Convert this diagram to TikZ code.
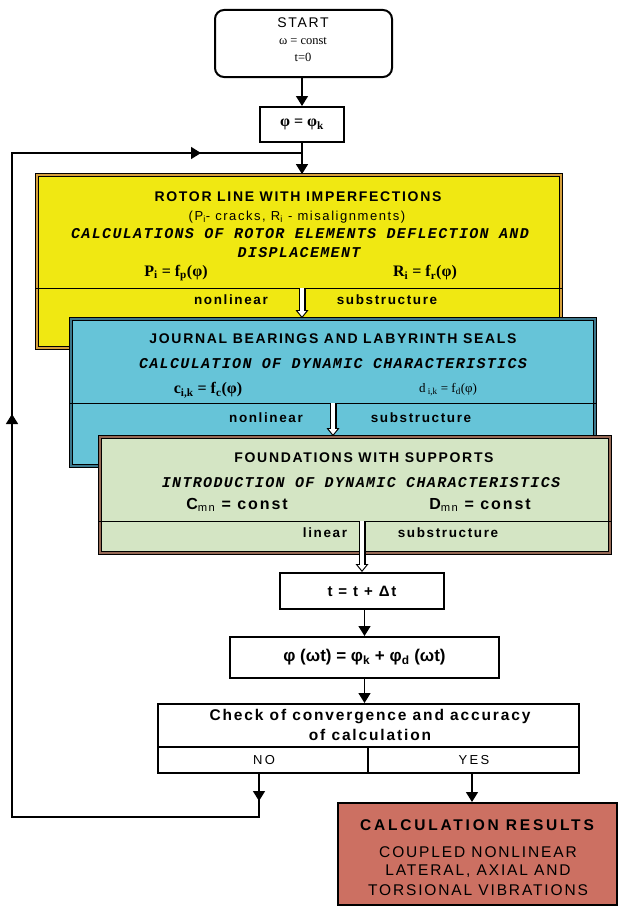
\documentclass[tikz,border=0pt]{standalone}
\usepackage{fontspec}
\setmainfont{Liberation Sans}
\newfontfamily\spaced{Liberation Sans}[LetterSpace=12]
\newfontfamily\widesp{Liberation Sans}[LetterSpace=18]
\newfontfamily\courit{Liberation Mono}[LetterSpace=9]
\newfontfamily\timesf{Liberation Serif}
\usetikzlibrary{arrows.meta, decorations.markings}

\definecolor{rotorfill}{RGB}{240,232,18}
\definecolor{rotorgap}{RGB}{214,160,60}
\definecolor{bearfill}{RGB}{102,196,216}
\definecolor{beargap}{RGB}{60,120,140}
\definecolor{foundfill}{RGB}{212,229,196}
\definecolor{foundgap}{RGB}{150,105,85}
\definecolor{resfill}{RGB}{204,112,98}

\newcommand{\fsz}[1]{\fontsize{#1}{#1}\selectfont}

\begin{document}
\begin{tikzpicture}[x=1pt, y=-1pt,
  arr/.style={line width=1.5pt, -{Triangle[length=10pt,width=12pt]}},
  hollow/.style={draw=black, line width=7pt, -{Triangle[length=8pt,width=13pt,line width=0pt]},
    postaction={draw=white, line width=4.8pt, shorten >=1.7pt,
      -{Triangle[length=5.3pt,width=8.4pt,line width=0pt]}}},
  plain/.style={draw, line width=2pt, fill=white, inner sep=0pt},
  frame/.style={draw=black, line width=1.8pt, double=#1, double distance=1.2pt, inner sep=0pt},
  lbl/.style={inner sep=0pt},
  headtxt/.style={lbl, font=\spaced\bfseries\fsz{14}},
  calctxt/.style={lbl, font=\courit\bfseries\itshape\fsz{15}},
  subtxt/.style={lbl, font=\spaced\bfseries\fsz{13.5}},
  formtxt/.style={lbl, font=\timesf\bfseries\fsz{16}},
  loop/.style={line width=1.5pt, postaction={decorate}, decoration={markings,
    mark=at position 27pt with {\arrow{Triangle[length=10pt,width=12pt]}},
    mark=at position 693pt with {\arrow{Triangle[length=10pt,width=12pt]}},
    mark=at position 1143pt with {\arrow{Triangle[length=10pt,width=12pt]}}}}]
  \useasboundingbox (0,0) rectangle (619,907);

  % start
  \node[plain, rounded corners=9pt, minimum width=177pt, minimum height=67pt] (start) at (303.5,43.5) {};
  \node[lbl, font=\spaced\fsz{14}] (starttxt) at (303,23) {START};
  \node[lbl, font=\timesf\fsz{12.5}] (omega) at (303,41) {ω = const};
  \node[lbl, font=\timesf\fsz{12.5}] (tzero) at (303,57) {t=0};

  \node[plain, minimum width=84pt, minimum height=35pt, font=\timesf\bfseries\fsz{16}] (phik) at (302,124.5) {φ = φ\textsubscript{k}};
  \draw[arr] (phik.north |- start.south) -- (phik.north);

  % rotor line
  \node[frame=rotorgap, fill=rotorfill, minimum width=524pt, minimum height=173pt] (rotor) at (299,261.5) {};
  \draw[arr] (phik.south) -- (phik.south |- rotor.north);
  \coordinate (rotorcut) at (302,288);
  \draw[line width=0.8pt] (rotor.west |- rotorcut) -- (rotor.east |- rotorcut);
  \node[headtxt] (rotorhead) at (298,197) {ROTOR LINE WITH IMPERFECTIONS};
  \node[lbl, font=\spaced\fsz{13}] (rotornote) at (297,217) {(P\textsubscript{i}- cracks, R\textsubscript{i} - misalignments)};
  \node[calctxt] (rotorcalca) at (300,234) {CALCULATIONS OF ROTOR ELEMENTS DEFLECTION AND};
  \node[calctxt] (rotorcalcb) at (299,253) {DISPLACEMENT};
  \node[formtxt] (rotorP) at (176,273) {P\textsubscript{i} = f\textsubscript{p}(φ)};
  \node[formtxt] (rotorR) at (425,273) {R\textsubscript{i} = f\textsubscript{r}(φ)};
  \node[subtxt] (rotornl) at (231,300) {nonlinear};
  \node[subtxt] (rotorsub) at (387,300) {substructure};

  % bearings and seals
  \node[frame=beargap, fill=bearfill, minimum width=524pt, minimum height=147pt] (bear) at (333,392.5) {};
  \draw[hollow] (rotorcut) -- (rotorcut |- bear.north);
  \coordinate (bearcut) at (333,403);
  \draw[line width=0.8pt] (bear.west |- bearcut) -- (bear.east |- bearcut);
  \node[headtxt] (bearhead) at (333,339) {JOURNAL BEARINGS AND LABYRINTH SEALS};
  \node[calctxt] (bearcalc) at (333,364) {CALCULATION OF DYNAMIC CHARACTERISTICS};
  \node[formtxt] (bearc) at (208,390) {c\textsubscript{i,k} = f\textsubscript{c}(φ)};
  \node[lbl, font=\timesf\fsz{13}] (beard) at (448,390) {d\textsubscript{ i,k} = f\textsubscript{d}(φ)};
  \node[subtxt] (bearnl) at (266,418) {nonlinear};
  \node[subtxt] (bearsub) at (421,418) {substructure};

  % foundations
  \node[frame=foundgap, fill=foundfill, minimum width=510pt, minimum height=116pt] (found) at (355,495) {};
  \draw[hollow] (bearcut) -- (bearcut |- found.north);
  \coordinate (foundcut) at (362,521);
  \draw[line width=0.8pt] (found.west |- foundcut) -- (found.east |- foundcut);
  \node[headtxt] (foundhead) at (364,458) {FOUNDATIONS WITH SUPPORTS};
  \node[calctxt] (foundcalc) at (361,483) {INTRODUCTION OF DYNAMIC CHARACTERISTICS};
  \node[lbl, font=\spaced\bfseries\fsz{16}] (foundC) at (237,505) {C\textsubscript{\mdseries mn} = const};
  \node[lbl, font=\spaced\bfseries\fsz{16}] (foundD) at (480,505) {D\textsubscript{\mdseries mn} = const};
  \node[subtxt] (foundl) at (325,533) {linear};
  \node[subtxt] (foundsub) at (448,533) {substructure};

  % time step
  \node[plain, minimum width=164pt, minimum height=36pt, font=\spaced\bfseries\fsz{15}] (tstep) at (362,591) {t = t + Δt};
  \draw[hollow] (foundcut) -- (tstep.north);
  \node[plain, minimum width=269pt, minimum height=41pt, font=\bfseries\fsz{17}] (phiw) at (364.5,657.5) {φ (ωt) = φ\textsubscript{k} + φ\textsubscript{d} (ωt)};
  \draw[arr] (tstep.south -| phiw) -- (phiw.north);

  % check
  \node[plain, minimum width=421pt, minimum height=69pt] (check) at (368.5,738.5) {};
  \draw[arr] (phiw.south) -- (phiw.south |- check.north);
  \coordinate (checkcut) at (368,747);
  \draw[line width=1.8pt] (check.west |- checkcut) -- (check.east |- checkcut);
  \draw[line width=1.8pt] (checkcut) -- (check.south -| checkcut);
  \node[lbl, font=\spaced\bfseries\fsz{15.5}] (checka) at (370,717) {Check of convergence and accuracy};
  \node[lbl, font=\spaced\bfseries\fsz{15.5}] (checkb) at (370,735) {of calculation};
  \node[lbl, font=\widesp\fsz{13}] (no) at (264,760) {NO};
  \node[lbl, font=\widesp\fsz{13}] (yes) at (474,760) {YES};

  % results
  \node[plain, fill=resfill, minimum width=279pt, minimum height=102pt] (results) at (477.5,854) {};
  \coordinate (yesx) at (472,0);
  \draw[arr] (check.south -| yesx) -- (results.north -| yesx);
  \node[lbl, font=\widesp\bfseries\fsz{15.5}] (reshead) at (477,825) {CALCULATION RESULTS};
  \node[lbl, font=\spaced\fsz{15.5}] (resa) at (478,852) {COUPLED NONLINEAR};
  \node[lbl, font=\spaced\fsz{15.5}] (resb) at (478,871) {LATERAL, AXIAL AND};
  \node[lbl, font=\spaced\fsz{15.5}] (resc) at (478,890) {TORSIONAL VIBRATIONS};

  % back loop
  \coordinate (noout) at (259,817);
  \coordinate (loopbl) at (12,817);
  \coordinate (looptl) at (12,153);
  \coordinate (loopjoin) at (302,153);
  \draw[loop] (check.south -| noout) -- (noout) -- (loopbl) -- (looptl) -- (loopjoin);
\end{tikzpicture}
\end{document}
